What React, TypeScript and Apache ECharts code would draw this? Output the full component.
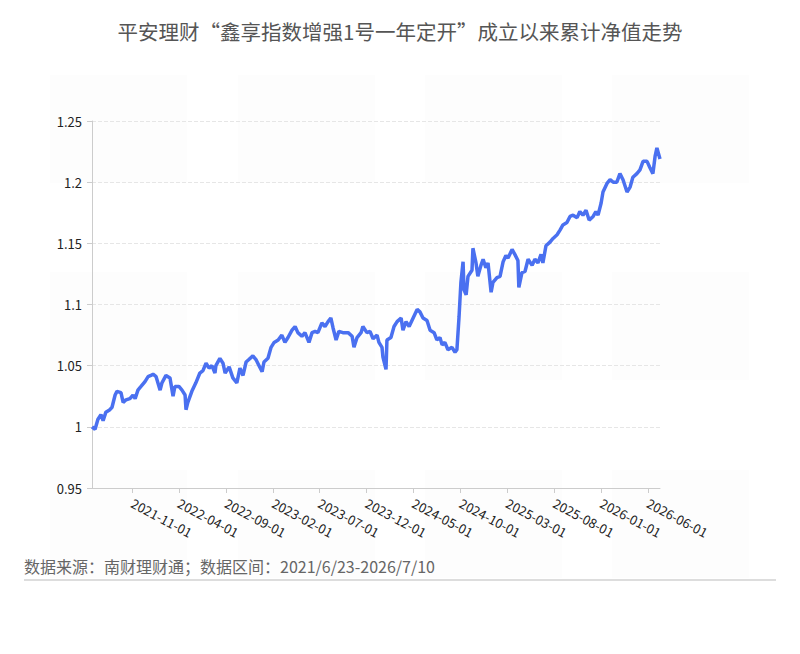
import React, { useEffect, useRef } from "react";
import * as echarts from "echarts";

const TITLE = "平安理财“鑫享指数增强1号一年定开”成立以来累计净值走势";
const FOOTNOTE = "数据来源：南财理财通；数据区间：2021/6/23-2026/7/10";

const dates: string[] = [
  "2021-06-23","2021-07-03","2021-07-12","2021-07-22","2021-07-29","2021-08-07","2021-08-20","2021-08-27",
  "2021-09-06","2021-09-12","2021-09-25","2021-10-02","2021-10-11","2021-10-24","2021-11-03","2021-11-10",
  "2021-11-19","2021-11-29","2021-12-12","2021-12-22","2021-12-31","2022-01-07","2022-01-17","2022-01-30",
  "2022-02-05","2022-02-18","2022-03-03","2022-03-13","2022-03-19","2022-04-01","2022-04-11","2022-04-21",
  "2022-04-24","2022-04-30","2022-05-13","2022-05-26","2022-06-08","2022-06-18","2022-06-28","2022-07-08",
  "2022-07-17","2022-07-27","2022-07-30","2022-08-12","2022-08-22","2022-08-29","2022-09-11","2022-09-23",
  "2022-10-06","2022-10-16","2022-10-26","2022-11-05","2022-11-14","2022-11-27","2022-12-07","2022-12-17",
  "2022-12-27","2023-01-02","2023-01-15","2023-01-25","2023-02-04","2023-02-17","2023-03-01","2023-03-11",
  "2023-03-21","2023-04-03","2023-04-13","2023-04-22","2023-05-05","2023-05-15","2023-05-28","2023-06-07",
  "2023-06-17","2023-06-26","2023-07-09","2023-07-19","2023-07-29","2023-08-07","2023-08-14","2023-08-24",
  "2023-09-02","2023-09-15","2023-10-02","2023-10-15","2023-10-21","2023-10-31","2023-11-13","2023-11-19",
  "2023-12-02","2023-12-12","2023-12-22","2024-01-04","2024-01-10","2024-01-20","2024-01-23","2024-02-02",
  "2024-02-05","2024-02-18","2024-02-28","2024-03-09","2024-03-22","2024-03-28","2024-04-07","2024-04-17",
  "2024-04-30","2024-05-13","2024-05-22","2024-06-01","2024-06-14","2024-06-24","2024-07-07","2024-07-16",
  "2024-07-26","2024-08-02","2024-08-11","2024-08-21","2024-09-03","2024-09-13","2024-09-19","2024-09-26",
  "2024-10-02","2024-10-09","2024-10-12","2024-10-19","2024-10-25","2024-11-07","2024-11-10","2024-11-20",
  "2024-11-26","2024-12-06","2024-12-13","2024-12-22","2024-12-29","2025-01-08","2025-01-14","2025-01-27",
  "2025-02-06","2025-02-16","2025-02-25","2025-03-04","2025-03-17","2025-03-26","2025-04-05","2025-04-08",
  "2025-04-18","2025-04-28","2025-05-08","2025-05-21","2025-05-30","2025-06-09","2025-06-19","2025-06-25",
  "2025-07-05","2025-07-18","2025-07-28","2025-08-10","2025-08-20","2025-08-29","2025-09-11","2025-09-21",
  "2025-10-01","2025-10-14","2025-10-23","2025-11-02","2025-11-12","2025-11-22","2025-12-05","2025-12-14",
  "2025-12-21","2025-12-31","2026-01-06","2026-01-19","2026-01-29","2026-02-08","2026-02-20","2026-03-02",
  "2026-03-12","2026-03-25","2026-04-04","2026-04-13","2026-04-26","2026-05-06","2026-05-16","2026-05-29",
  "2026-06-07","2026-06-17","2026-06-24","2026-06-30","2026-07-10",
];

const navValues: number[] = [
  1.000,0.998,1.006,1.010,1.005,1.012,1.014,1.016,
  1.026,1.029,1.028,1.020,1.022,1.023,1.026,1.023,
  1.030,1.033,1.037,1.041,1.042,1.043,1.041,1.030,
  1.036,1.042,1.040,1.025,1.033,1.033,1.030,1.026,
  1.014,1.020,1.029,1.036,1.044,1.046,1.052,1.048,
  1.050,1.044,1.050,1.056,1.052,1.044,1.049,1.040,
  1.036,1.048,1.042,1.053,1.055,1.058,1.055,1.050,
  1.045,1.053,1.056,1.065,1.069,1.071,1.075,1.069,
  1.073,1.079,1.082,1.077,1.074,1.077,1.069,1.077,
  1.078,1.077,1.085,1.082,1.086,1.089,1.081,1.071,
  1.078,1.077,1.077,1.074,1.065,1.073,1.077,1.082,
  1.077,1.078,1.072,1.075,1.069,1.065,1.057,1.047,
  1.071,1.073,1.082,1.086,1.089,1.079,1.086,1.082,
  1.089,1.096,1.094,1.089,1.087,1.079,1.077,1.071,
  1.073,1.067,1.069,1.063,1.065,1.061,1.063,1.090,
  1.118,1.135,1.112,1.108,1.123,1.128,1.146,1.134,
  1.123,1.132,1.137,1.130,1.134,1.110,1.118,1.122,
  1.123,1.135,1.140,1.138,1.145,1.141,1.136,1.114,
  1.126,1.127,1.137,1.132,1.137,1.134,1.141,1.134,
  1.148,1.151,1.154,1.157,1.161,1.165,1.167,1.172,
  1.173,1.171,1.176,1.173,1.177,1.169,1.172,1.176,
  1.173,1.183,1.192,1.199,1.202,1.200,1.200,1.207,
  1.202,1.192,1.196,1.204,1.207,1.210,1.217,1.217,
  1.212,1.207,1.221,1.228,1.219,
];

const tickDates: string[] = [
  "2021-11-01","2022-04-01","2022-09-01","2023-02-01","2023-07-01","2023-12-01",
  "2024-05-01","2024-10-01","2025-03-01","2025-08-01","2026-01-01","2026-06-01",
];

const START_DATE = "2021-06-23";
const END_DATE = "2026-07-10";

function toTime(s: string): number {
  const [y, m, d] = s.split("-").map(Number);
  return Date.UTC(y, m - 1, d);
}
function fmt(t: number): string {
  const d = new Date(t);
  const p = (n: number) => (n < 10 ? "0" + n : "" + n);
  return d.getUTCFullYear() + "-" + p(d.getUTCMonth() + 1) + "-" + p(d.getUTCDate());
}

export default function App() {
  const ref = useRef<HTMLDivElement>(null);
  useEffect(() => {
    document.body.style.margin = "0";
    if (!ref.current) return;
    const chart = echarts.init(ref.current, undefined, { renderer: "svg" });
    const font = "'Noto Sans CJK SC', 'Noto Sans', sans-serif";
    const ticks = tickDates.map(toTime);
    const blocks: any[] = [];
    const cols = [50, 238, 425, 612];
    const rows = [75, 272, 470];
    rows.forEach((y) =>
      cols.forEach((x) =>
        blocks.push({
          type: "rect",
          z: -10,
          silent: true,
          shape: { x, y, width: 137, height: 108 },
          style: { fill: "#fdfdfd" },
        })
      )
    );
    chart.setOption({
      animation: false,
      backgroundColor: "#ffffff",
      title: {
        text: TITLE,
        left: "center",
        top: 16,
        textStyle: { fontSize: 20.5, fontWeight: "normal", color: "#555555", fontFamily: font },
      },
      grid: { left: 92, right: 140, top: 121, bottom: 166 },
      xAxis: {
        type: "value",
        min: toTime(START_DATE),
        max: toTime(END_DATE),
        axisLine: { lineStyle: { color: "#cccccc" } },
        axisTick: { show: true, customValues: ticks, length: 5, lineStyle: { color: "#cccccc" } },
        axisLabel: {
          customValues: ticks,
          rotate: -28,
          fontSize: 13,
          color: "#222222",
          fontFamily: font,
          margin: 14,
          formatter: (v: number) => fmt(v),
        },
        splitLine: { show: false },
      },
      yAxis: {
        type: "value",
        min: 0.95,
        max: 1.25,
        interval: 0.05,
        axisLine: { show: true, lineStyle: { color: "#cccccc" } },
        axisTick: { show: true, length: 5, lineStyle: { color: "#cccccc" } },
        axisLabel: { fontSize: 13, color: "#222222", fontFamily: font, margin: 10 },
        splitLine: { show: true, lineStyle: { type: "dashed", color: "#e6e6e6" } },
      },
      series: [
        {
          type: "line",
          data: dates.map((d, i) => [toTime(d), navValues[i]]),
          showSymbol: false,
          symbol: "none",
          lineStyle: { width: 3.5, color: "#4a70f0" },
          itemStyle: { color: "#4a70f0" },
        },
      ],
      graphic: [
        ...blocks,
        {
          type: "text",
          left: 24,
          top: 558,
          style: { text: FOOTNOTE, fontSize: 16, fill: "#666666", fontFamily: font },
        },
        {
          type: "rect",
          shape: { x: 24, y: 579, width: 752, height: 2 },
          style: { fill: "#dddddd" },
        },
      ],
    });
    return () => chart.dispose();
  }, []);
  return <div ref={ref} style={{ width: 800, height: 654 }} />;
}
